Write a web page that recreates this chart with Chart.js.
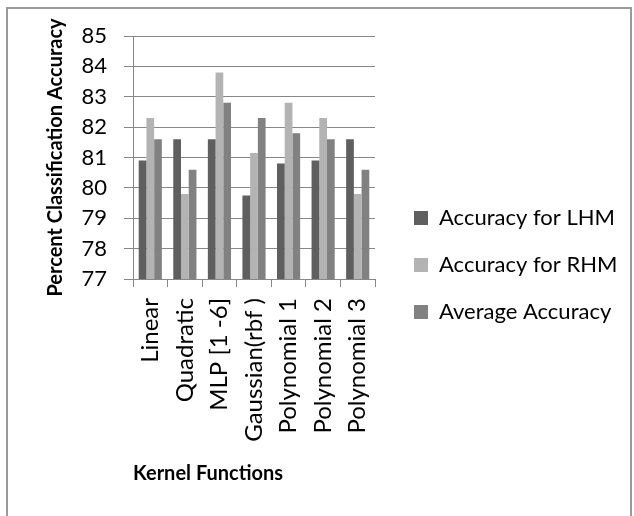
<!DOCTYPE html>
<html>
<head>
<meta charset="utf-8">
<script src="https://cdn.jsdelivr.net/npm/chart.js@4.4.0/dist/chart.umd.min.js"></script>
<style>
    body { margin: 0; background: #fff; }
    #frame { position: absolute; left: 6px; top: 7px; width: 626px; height: 530px; box-sizing: border-box; border: 2px solid #9a9a9a; }
    #wrap { position: absolute; left: 0; top: 0; width: 634px; height: 494px; }
</style>
</head>
<body>
<div id="frame"></div>
<div id="wrap"><canvas id="kernel-chart"></canvas></div>
<script>
const kernels = ['Linear', 'Quadratic', 'MLP [1 -6]', 'Gaussian(rbf )', 'Polynomial 1', 'Polynomial 2', 'Polynomial 3'];
const accuracyLHM = [80.9, 81.6, 81.6, 79.75, 80.8, 80.9, 81.6];
const accuracyRHM = [82.3, 79.8, 83.8, 81.15, 82.8, 82.3, 79.8];
const averageAccuracy = [81.6, 80.6, 82.8, 82.3, 81.8, 81.6, 80.6];
const yMin = 77;
const yMax = 85;

const gridColor = '#878787';
const font = 'Lato';

function makeSet(label, data, color) {
    return {
        label: label,
        data: data,
        backgroundColor: color,
        borderColor: color,
        borderWidth: 0,
        barPercentage: 1,
        categoryPercentage: 0.67
    };
}

new Chart(document.querySelector('#kernel-chart').getContext('2d'), {
    type: 'bar',
    data: {
        labels: kernels,
        datasets: [
            makeSet('Accuracy for LHM', accuracyLHM, '#5f5f5f'),
            makeSet('Accuracy for RHM', accuracyRHM, '#b3b3b3'),
            makeSet('Average Accuracy', averageAccuracy, '#818181')
        ]
    },
    options: {
        responsive: true,
        maintainAspectRatio: false,
        animation: false,
        layout: { padding: { top: 36, right: 17, bottom: 0, left: 0 } },
        plugins: {
            tooltip: { enabled: false },
            legend: {
                position: 'right',
                maxWidth: 228,
                labels: {
                    boxWidth: 14,
                    boxHeight: 14,
                    padding: 25,
                    color: '#000',
                    font: { family: font, size: 22 }
                }
            }
        },
        scales: {
            x: {
                grid: { drawOnChartArea: false, color: gridColor, tickLength: 8, offset: true },
                border: { color: gridColor },
                ticks: {
                    autoSkip: false,
                    minRotation: 90,
                    maxRotation: 90,
                    padding: 11,
                    color: '#000',
                    font: { family: font, size: 24 }
                },
                title: {
                    display: true,
                    text: 'Kernel Functions',
                    align: 'start',
                    color: '#000',
                    padding: { top: 0, bottom: 8 },
                    font: { family: font, size: 20, weight: 'bold' }
                },
                afterFit: s => { s.height = 215; }
            },
            y: {
                min: yMin,
                max: yMax,
                ticks: {
                    stepSize: 1,
                    padding: 17,
                    color: '#000',
                    font: { family: font, size: 22 }
                },
                grid: { color: gridColor, tickLength: 9 },
                border: { color: gridColor },
                title: {
                    display: true,
                    text: 'Percent Classification Accuracy',
                    color: '#000',
                    padding: { top: 44, bottom: 0 },
                    font: { family: font, size: 20, weight: 'bold' }
                },
                afterFit: s => { s.width = 133; }
            },
            gap: {
                type: 'linear',
                position: 'right',
                grid: { display: false },
                border: { display: false },
                ticks: { display: false },
                afterFit: s => { s.width = 14; }
            }
        }
    }
});
</script>
</body>
</html>
